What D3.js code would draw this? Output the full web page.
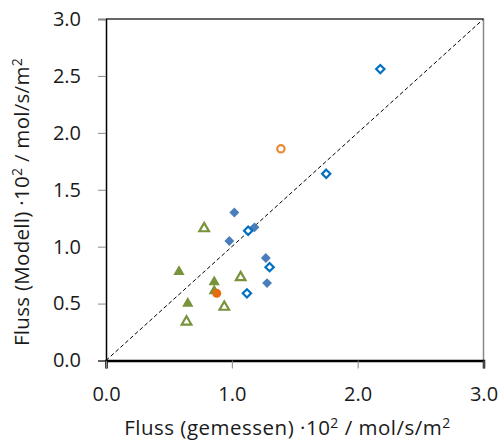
<!DOCTYPE html>
<html>
<head>
<meta charset="utf-8">
<script src="https://cdn.jsdelivr.net/npm/d3@7"></script>
<style>
  body { margin: 0; background: #fff; }
  text { font-family: "Open Sans", "Noto Sans", sans-serif; fill: #1a1a1a; }
</style>
</head>
<body>
<div id="chart"></div>
<script>
// measured vs model flux, one array per marker series
const blueFilled = [
  {x: 1.02, y: 1.30}, {x: 1.18, y: 1.17}, {x: 0.98, y: 1.05},
  {x: 1.27, y: 0.90}, {x: 1.28, y: 0.68}
];
const blueOpen = [
  {x: 2.18, y: 2.56}, {x: 1.75, y: 1.64}, {x: 1.13, y: 1.14},
  {x: 1.30, y: 0.82}, {x: 1.12, y: 0.59}
];
const greenFilled = [
  {x: 0.58, y: 0.78}, {x: 0.86, y: 0.69}, {x: 0.86, y: 0.61},
  {x: 0.65, y: 0.50}
];
const greenOpen = [
  {x: 0.78, y: 1.16}, {x: 1.07, y: 0.73}, {x: 0.94, y: 0.47},
  {x: 0.64, y: 0.34}
];
const orangeFilled = [{x: 0.88, y: 0.59}];
const orangeOpen = [{x: 1.39, y: 1.86}];

const xTicks = [0, 1, 2, 3];
const yTicks = [0, 0.5, 1, 1.5, 2, 2.5, 3];

const width = 500, height = 447;
const mLeft = 106, mRight = 483.5, mTop = 19, mBottom = 360.5;

const svg = d3.select("#chart").append("svg")
  .attr("width", width).attr("height", height);

const x = d3.scaleLinear().domain([0, 3]).range([mLeft, mRight]);
const y = d3.scaleLinear().domain([0, 3]).range([mBottom, mTop]);

// frame
svg.append("line").attr("x1", mLeft).attr("x2", mRight).attr("y1", mTop).attr("y2", mTop)
  .attr("stroke", "#333").attr("stroke-width", 1.5);
svg.append("line").attr("x1", mRight).attr("x2", mRight).attr("y1", mTop).attr("y2", mBottom)
  .attr("stroke", "#888").attr("stroke-width", 1.5);

// y axis
const yAxis = svg.append("g").attr("transform", `translate(${mLeft},0)`)
  .call(d3.axisLeft(y).tickValues(yTicks).tickFormat(d3.format(".1f")).tickSizeOuter(0).tickSize(8).tickPadding(17));
yAxis.select(".domain").attr("stroke", "#000").attr("stroke-width", 1.5);
yAxis.selectAll(".tick line").attr("stroke", "#888");
yAxis.selectAll(".tick text").attr("font-size", 20).attr("fill", "#1a1a1a");

// x axis
const xAxis = svg.append("g").attr("transform", `translate(0,${mBottom})`)
  .call(d3.axisBottom(x).tickValues(xTicks).tickFormat(d3.format(".1f")).tickSizeOuter(0).tickSize(8).tickPadding(18));
xAxis.select(".domain").attr("stroke", "#000").attr("stroke-width", 2.5);
xAxis.selectAll(".tick line").attr("stroke", "#888");
xAxis.selectAll(".tick text").attr("font-size", 20).attr("fill", "#1a1a1a");
svg.selectAll(".domain").attr("fill", "none");
svg.selectAll("g").attr("font-family", null).attr("font-size", null);

// 1:1 line
svg.append("line")
  .attr("x1", x(0)).attr("y1", y(0)).attr("x2", x(3)).attr("y2", y(3))
  .attr("stroke", "#000").attr("stroke-width", 1).attr("stroke-dasharray", "4,2.5");

function drawSeries(data, type, size, fill, stroke, sw) {
  svg.append("g").selectAll("path").data(data).enter().append("path")
    .attr("transform", d => `translate(${x(d.x)},${y(d.y)})`)
    .attr("d", d3.symbol().type(type).size(size)())
    .attr("fill", fill).attr("stroke", stroke).attr("stroke-width", sw);
}

drawSeries(greenFilled, d3.symbolTriangle, 55, "#77933C", "none", 0);
drawSeries(greenOpen, d3.symbolTriangle, 40, "#fff", "#77933C", 2.2);
drawSeries(blueFilled, d3.symbolDiamond2, 62, "#4A7EBB", "none", 0);
drawSeries(blueOpen, d3.symbolDiamond2, 44, "#fff", "#0070C0", 2.2);
drawSeries(orangeFilled, d3.symbolCircle, 64, "#E46C0A", "none", 0);
drawSeries(orangeOpen, d3.symbolCircle, 42, "#fff", "#E98A33", 2.2);

// axis titles
const xt = svg.append("text").attr("x", (123 + 452) / 2).attr("y", 435)
  .attr("text-anchor", "middle").attr("font-size", 20.5).attr("letter-spacing", 0.5);
xt.append("tspan").text("Fluss (gemessen) ·10");
xt.append("tspan").attr("font-size", 14).attr("dy", -7).text("2");
xt.append("tspan").attr("dy", 7).text(" / mol/s/m");
xt.append("tspan").attr("font-size", 14).attr("dy", -7).text("2");

const yt = svg.append("text").attr("transform", "translate(29,202) rotate(-90)")
  .attr("text-anchor", "middle").attr("font-size", 20.5).attr("letter-spacing", 0.3);
yt.append("tspan").text("Fluss (Modell) ·10");
yt.append("tspan").attr("font-size", 14).attr("dy", -7).text("2");
yt.append("tspan").attr("dy", 7).text(" / mol/s/m");
yt.append("tspan").attr("font-size", 14).attr("dy", -7).text("2");
</script>
</body>
</html>
